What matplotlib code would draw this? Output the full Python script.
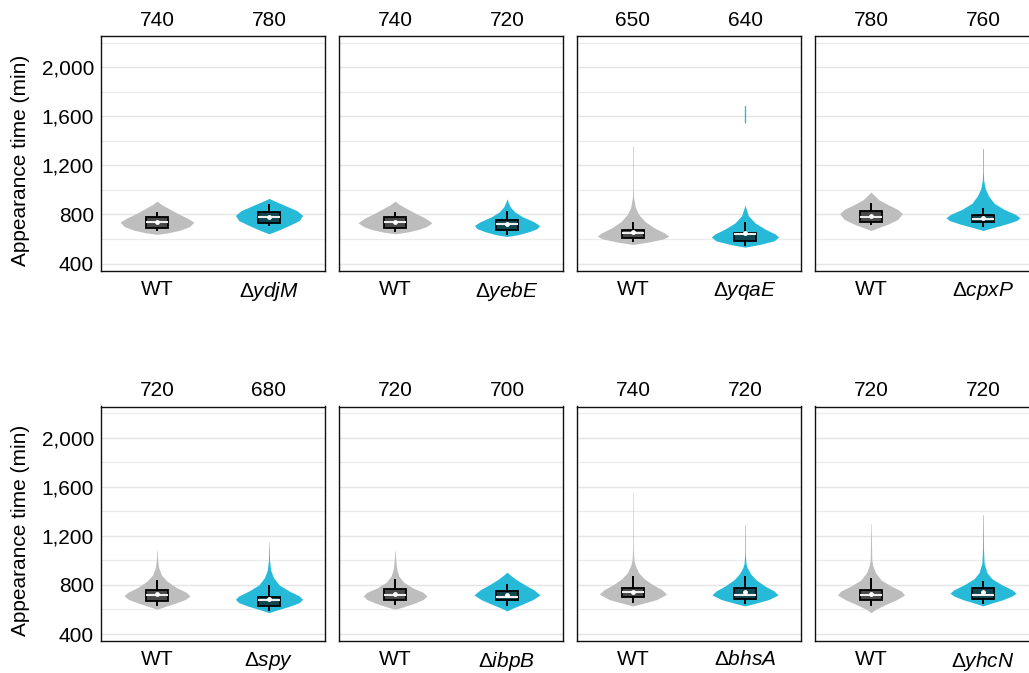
import matplotlib
matplotlib.use("Agg")
import matplotlib.pyplot as plt
from matplotlib.ticker import FuncFormatter

plt.rcParams["font.family"] = ["Liberation Sans", "DejaVu Sans"]
plt.rcParams["mathtext.fontset"] = "custom"
plt.rcParams["mathtext.rm"] = "Liberation Sans"
plt.rcParams["mathtext.it"] = "Liberation Sans:italic"

# deletion strains, one panel each (WT control on the left)
genes = ["ydjM", "yebE", "yqaE", "cpxP", "spy", "ibpB", "bhsA", "yhcN"]

# box statistics, appearance time in minutes
wt_whislo = [669, 664, 582, 718, 637, 642, 664, 634]
wt_q1 = [691, 688, 604, 737, 672, 678, 700, 678]
wt_med = [740, 740, 650, 780, 720, 720, 740, 720]
wt_q3 = [778, 778, 675, 827, 759, 765, 773, 759]
wt_whishi = [814, 814, 729, 882, 835, 841, 868, 849]
wt_mean = [742, 742, 660, 790, 725, 725, 745, 725]

mut_whislo = [710, 642, 553, 702, 596, 637, 650, 656]
mut_q1 = [732, 669, 582, 737, 631, 678, 683, 686]
mut_med = [780, 720, 640, 760, 680, 700, 720, 720]
mut_q3 = [819, 757, 651, 792, 700, 751, 773, 773]
mut_whishi = [879, 816, 729, 841, 794, 800, 868, 827]
mut_mean = [778, 722, 652, 770, 685, 715, 745, 740]

# violin outlines: appearance time and density half-width
wt_vals = [
    [637, 650, 670, 700, 737, 770, 810, 850, 880, 908],
    [642, 655, 675, 700, 732, 770, 810, 850, 880, 908],
    [555, 575, 600, 623, 650, 690, 740, 800, 860, 940, 1000, 1355],
    [669, 690, 720, 760, 806, 840, 880, 920, 955, 982],
    [602, 620, 650, 680, 710, 740, 780, 830, 880, 940, 1000, 1080],
    [602, 620, 650, 680, 710, 740, 775, 820, 870, 930, 1000, 1080],
    [629, 650, 680, 724, 760, 800, 850, 900, 960, 1004, 1100, 1548],
    [574, 600, 640, 680, 718, 750, 790, 840, 900, 960, 1004, 1298],
]
wt_width = [
    [0, 0.10, 0.20, 0.29, 0.33, 0.27, 0.18, 0.10, 0.04, 0],
    [0, 0.10, 0.20, 0.28, 0.33, 0.27, 0.18, 0.10, 0.04, 0],
    [0, 0.14, 0.27, 0.32, 0.28, 0.19, 0.11, 0.05, 0.02, 0.005, 0.003, 0.003],
    [0, 0.06, 0.15, 0.24, 0.28, 0.24, 0.15, 0.07, 0.03, 0],
    [0, 0.06, 0.16, 0.25, 0.295, 0.26, 0.17, 0.09, 0.04, 0.015, 0.006, 0.002],
    [0, 0.07, 0.17, 0.25, 0.285, 0.25, 0.16, 0.08, 0.035, 0.015, 0.007, 0.002],
    [0, 0.09, 0.21, 0.30, 0.26, 0.18, 0.10, 0.05, 0.02, 0.008, 0.003, 0.002],
    [0, 0.04, 0.13, 0.23, 0.30, 0.27, 0.18, 0.09, 0.04, 0.015, 0.007, 0.002],
]
mut_vals = [
    [642, 670, 710, 750, 792, 830, 870, 905, 930],
    [620, 635, 660, 685, 710, 740, 780, 820, 860, 900, 928],
    [533, 555, 585, 615, 640, 680, 730, 790, 860, 880, 1540, 1553, 1682, 1690],
    [669, 690, 720, 750, 773, 800, 840, 890, 950, 1010, 1078, 1150, 1336],
    [574, 595, 625, 655, 683, 710, 750, 800, 860, 920, 1000, 1153],
    [588, 610, 640, 680, 718, 760, 800, 845, 880, 904],
    [629, 650, 680, 718, 750, 790, 840, 890, 940, 977, 1050, 1290],
    [629, 650, 680, 710, 732, 760, 800, 850, 900, 977, 1100, 1371],
]
mut_width = [
    [0, 0.08, 0.18, 0.27, 0.30, 0.25, 0.15, 0.06, 0],
    [0, 0.10, 0.20, 0.27, 0.29, 0.24, 0.14, 0.07, 0.03, 0.01, 0],
    [0, 0.13, 0.26, 0.30, 0.27, 0.18, 0.09, 0.03, 0.005, 0, 0, 0.006, 0.006, 0],
    [0, 0.08, 0.20, 0.30, 0.33, 0.29, 0.19, 0.10, 0.05, 0.02, 0.006, 0.003, 0.003],
    [0, 0.07, 0.18, 0.27, 0.30, 0.27, 0.18, 0.09, 0.04, 0.015, 0.005, 0.001],
    [0, 0.05, 0.13, 0.23, 0.295, 0.24, 0.16, 0.08, 0.03, 0],
    [0, 0.09, 0.21, 0.295, 0.26, 0.18, 0.10, 0.05, 0.02, 0.008, 0.003, 0.002],
    [0, 0.07, 0.18, 0.26, 0.295, 0.26, 0.17, 0.08, 0.035, 0.01, 0.004, 0.002],
]

WT_COLOR = "#BEBEBE"
MUT_COLOR = "#27BAD8"


def draw_violin(ax, pos, vals, width, color):
    left = [pos - w for w in width]
    right = [pos + w for w in width]
    ax.fill_betweenx(vals, left, right, color=color, linewidth=0, zorder=2)


def draw_box(ax, pos, whislo, q1, med, q3, whishi, mean):
    stats = [dict(whislo=whislo, q1=q1, med=med, q3=q3, whishi=whishi, mean=mean)]
    ax.bxp(
        stats,
        positions=[pos],
        widths=0.2,
        patch_artist=True,
        showmeans=True,
        showfliers=False,
        showcaps=False,
        manage_ticks=False,
        boxprops=dict(facecolor=(0, 0, 0, 0.62), edgecolor="black", linewidth=1.3),
        whiskerprops=dict(color="black", linewidth=1.4),
        medianprops=dict(color="#EEEEEE", linewidth=1.5),
        meanprops=dict(marker="o", markerfacecolor="white",
                       markeredgecolor="none", markersize=3.5),
        zorder=3,
    )


FIG_W, FIG_H = 1029, 673
col_left = [101, 339, 577, 815]
row_top = [36, 406.5]
panel_w, panel_h = 224, 234.5

fig = plt.figure(figsize=(FIG_W / 100, FIG_H / 100), dpi=100)

for i, gene in enumerate(genes):
    r, c = divmod(i, 4)
    ax = fig.add_axes([
        col_left[c] / FIG_W,
        1 - (row_top[r] + panel_h) / FIG_H,
        panel_w / FIG_W,
        panel_h / FIG_H,
    ])

    draw_violin(ax, 1, wt_vals[i], wt_width[i], WT_COLOR)
    draw_violin(ax, 2, mut_vals[i], mut_width[i], MUT_COLOR)
    draw_box(ax, 1, wt_whislo[i], wt_q1[i], wt_med[i], wt_q3[i], wt_whishi[i], wt_mean[i])
    draw_box(ax, 2, mut_whislo[i], mut_q1[i], mut_med[i], mut_q3[i], mut_whishi[i], mut_mean[i])

    # median values printed above each group
    for pos, med in [(1, wt_med[i]), (2, mut_med[i])]:
        ax.annotate(f"{med}", xy=(pos, 1), xycoords=("data", "axes fraction"),
                    xytext=(0, 7.5), textcoords="offset points",
                    ha="center", va="baseline", fontsize=15)

    ax.set_xlim(0.5, 2.5)
    ax.set_ylim(343, 2253)
    ax.set_xticks([1, 2])
    ax.set_xticklabels([r"$\mathrm{WT}$", rf"$\Delta\mathit{{{gene}}}$"], fontsize=15)
    ax.set_yticks([400, 800, 1200, 1600, 2000])
    ax.set_yticks([600, 1000, 1400, 1800, 2200], minor=True)
    ax.yaxis.set_major_formatter(FuncFormatter(lambda v, p: f"{v:,.0f}"))
    ax.tick_params(axis="both", which="both", length=0, labelsize=15)
    ax.tick_params(axis="x", pad=6.5)
    ax.tick_params(axis="y", pad=5)
    if c > 0:
        ax.tick_params(labelleft=False)

    ax.set_axisbelow(True)
    ax.grid(which="major", axis="y", color="#E5E5E5", linewidth=1.0)
    ax.grid(which="minor", axis="y", color="#EBEBEB", linewidth=0.9)
    for spine in ax.spines.values():
        spine.set_color("#111111")
        spine.set_linewidth(1.0)

for r in range(2):
    fig.text(21 / FIG_W, 1 - (row_top[r] + panel_h / 2 + 7) / FIG_H,
             "Appearance time (min)", rotation=90,
             ha="center", va="center", fontsize=15)

fig.savefig("out.png", dpi=100)
